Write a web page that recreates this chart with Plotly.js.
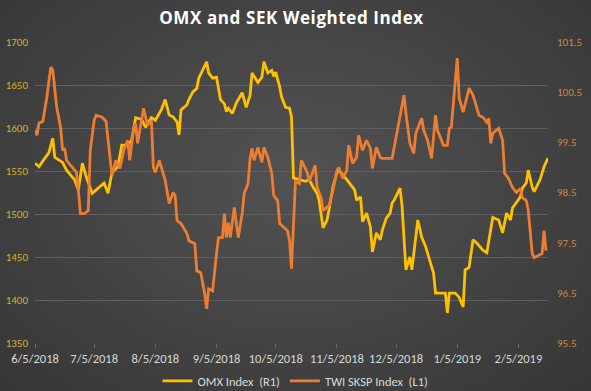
<!DOCTYPE html>
<html>
<head>
<meta charset="utf-8">
<script src="https://cdn.plot.ly/plotly-3.0.1.min.js"></script>
<style>
  html, body { margin: 0; padding: 0; }
  body { width: 591px; height: 391px; overflow: hidden;
         background: radial-gradient(ellipse at 50% 45%, #525252 0%, #464646 45%, #363636 100%); }
  #chart { width: 591px; height: 391px; }
  .gtitle { letter-spacing: 0.6px; }
</style>
</head>
<body>
<div id="chart"></div>
<script>
// ---- Data ----
const chartTitle = "OMX and SEK Weighted Index";

const omxDates = ["2018-06-05","2018-06-07","2018-06-10","2018-06-12","2018-06-14","2018-06-15","2018-06-17","2018-06-19","2018-06-21","2018-06-23","2018-06-25","2018-06-27","2018-06-29","2018-07-01","2018-07-04","2018-07-06","2018-07-10","2018-07-12","2018-07-14","2018-07-17","2018-07-19","2018-07-22","2018-07-24","2018-07-26","2018-07-29","2018-07-31","2018-08-03","2018-08-05","2018-08-08","2018-08-10","2018-08-12","2018-08-14","2018-08-16","2018-08-17","2018-08-18","2018-08-21","2018-08-22","2018-08-24","2018-08-26","2018-08-27","2018-08-29","2018-08-31","2018-09-01","2018-09-03","2018-09-05","2018-09-07","2018-09-09","2018-09-10","2018-09-11","2018-09-13","2018-09-15","2018-09-18","2018-09-19","2018-09-20","2018-09-22","2018-09-23","2018-09-26","2018-09-28","2018-09-29","2018-10-01","2018-10-03","2018-10-04","2018-10-05","2018-10-07","2018-10-08","2018-10-10","2018-10-12","2018-10-13","2018-10-14","2018-10-17","2018-10-20","2018-10-22","2018-10-24","2018-10-26","2018-10-27","2018-10-29","2018-10-31","2018-11-01","2018-11-03","2018-11-05","2018-11-06","2018-11-10","2018-11-11","2018-11-14","2018-11-15","2018-11-17","2018-11-18","2018-11-20","2018-11-22","2018-11-23","2018-11-25","2018-11-27","2018-11-28","2018-11-30","2018-12-02","2018-12-03","2018-12-04","2018-12-07","2018-12-08","2018-12-10","2018-12-12","2018-12-13","2018-12-16","2018-12-18","2018-12-20","2018-12-22","2018-12-24","2018-12-25","2018-12-27","2018-12-30","2018-12-31","2019-01-01","2019-01-04","2019-01-06","2019-01-08","2019-01-09","2019-01-11","2019-01-13","2019-01-15","2019-01-18","2019-01-20","2019-01-21","2019-01-23","2019-01-26","2019-01-28","2019-01-30","2019-02-01","2019-02-02","2019-02-04","2019-02-06","2019-02-07","2019-02-09","2019-02-10","2019-02-12","2019-02-13","2019-02-16","2019-02-18","2019-02-20"];
const omxValues = [1559,1555,1565,1571,1588,1566,1563,1560,1551,1546,1540,1528,1559,1543,1524,1528,1536,1524,1548,1555,1580,1580,1586,1612,1610,1601,1612,1609,1621,1633,1615,1613,1607,1592,1621,1627,1633,1642,1646,1658,1667,1677,1664,1658,1659,1633,1628,1619,1623,1617,1629,1641,1633,1624,1638,1664,1653,1659,1677,1664,1667,1660,1665,1648,1636,1624,1623,1613,1542,1540,1538,1540,1531,1524,1516,1484,1493,1505,1531,1548,1551,1540,1537,1528,1516,1520,1491,1501,1485,1456,1478,1470,1481,1495,1501,1513,1516,1530,1510,1435,1450,1435,1493,1473,1462,1446,1431,1408,1408,1408,1385,1408,1408,1403,1392,1435,1438,1470,1466,1458,1455,1470,1496,1493,1478,1501,1493,1507,1513,1520,1530,1536,1551,1531,1526,1540,1555,1565];

const twiDates = ["2018-06-05","2018-06-06","2018-06-07","2018-06-09","2018-06-11","2018-06-13","2018-06-14","2018-06-16","2018-06-17","2018-06-18","2018-06-19","2018-06-20","2018-06-21","2018-06-24","2018-06-26","2018-06-27","2018-06-28","2018-06-30","2018-07-02","2018-07-03","2018-07-05","2018-07-06","2018-07-09","2018-07-11","2018-07-13","2018-07-14","2018-07-16","2018-07-18","2018-07-20","2018-07-22","2018-07-23","2018-07-25","2018-07-26","2018-07-27","2018-07-29","2018-07-30","2018-08-01","2018-08-03","2018-08-04","2018-08-05","2018-08-07","2018-08-08","2018-08-10","2018-08-12","2018-08-14","2018-08-15","2018-08-16","2018-08-18","2018-08-21","2018-08-22","2018-08-25","2018-08-26","2018-08-28","2018-08-30","2018-08-31","2018-09-01","2018-09-03","2018-09-05","2018-09-06","2018-09-08","2018-09-09","2018-09-10","2018-09-11","2018-09-12","2018-09-14","2018-09-16","2018-09-18","2018-09-19","2018-09-21","2018-09-22","2018-09-23","2018-09-24","2018-09-26","2018-09-28","2018-09-29","2018-10-01","2018-10-03","2018-10-04","2018-10-06","2018-10-07","2018-10-09","2018-10-11","2018-10-12","2018-10-13","2018-10-15","2018-10-17","2018-10-18","2018-10-21","2018-10-22","2018-10-25","2018-10-26","2018-10-28","2018-10-29","2018-11-01","2018-11-03","2018-11-05","2018-11-06","2018-11-08","2018-11-10","2018-11-11","2018-11-13","2018-11-15","2018-11-16","2018-11-18","2018-11-20","2018-11-22","2018-11-23","2018-11-25","2018-11-27","2018-11-28","2018-12-03","2018-12-07","2018-12-09","2018-12-10","2018-12-12","2018-12-14","2018-12-15","2018-12-18","2018-12-19","2018-12-21","2018-12-23","2018-12-25","2018-12-26","2018-12-29","2018-12-31","2019-01-01","2019-01-02","2019-01-05","2019-01-06","2019-01-08","2019-01-10","2019-01-11","2019-01-13","2019-01-15","2019-01-16","2019-01-18","2019-01-20","2019-01-21","2019-01-22","2019-01-23","2019-01-26","2019-01-28","2019-01-29","2019-01-31","2019-02-02","2019-02-04","2019-02-06","2019-02-07","2019-02-09","2019-02-10","2019-02-12","2019-02-13","2019-02-17","2019-02-18","2019-02-19"];
const twiValues = [99.74,99.64,99.88,99.92,100.4,101.0,100.94,100.2,100.0,99.78,99.34,99.38,99.14,99.0,98.9,98.54,98.08,98.08,98.14,99.34,99.94,100.04,100.0,99.92,99.14,98.84,99.14,98.98,99.34,99.54,99.14,99.78,99.88,99.48,99.94,100.18,99.84,99.94,99.0,98.9,99.14,99.0,98.74,98.28,98.5,98.44,97.94,97.88,97.68,97.54,97.48,96.94,96.9,96.48,96.18,96.58,96.54,97.28,97.6,97.6,98.08,97.6,97.9,97.6,98.2,97.6,98.08,98.48,98.68,99.18,99.38,99.14,99.4,99.1,99.4,99.2,98.88,98.44,98.34,97.88,97.8,97.74,97.54,96.98,98.72,98.68,99.14,98.9,98.72,99.04,98.6,98.4,98.14,98.24,98.54,98.94,99.0,98.78,98.94,99.44,99.08,99.2,99.64,99.34,99.54,99.38,98.98,99.4,99.2,99.18,99.18,100.0,100.44,100.08,99.48,99.28,99.68,99.98,99.74,99.54,99.18,100.04,99.74,99.44,99.44,99.78,99.8,101.18,100.38,100.1,100.4,100.58,100.44,100.2,100.04,100.0,99.9,99.98,99.48,99.68,99.78,99.54,98.88,98.78,98.6,98.5,98.58,98.4,98.34,98.14,97.28,97.2,97.28,97.74,97.34];

const xTickDates = ["2018-06-05","2018-07-05","2018-08-05","2018-09-05","2018-10-05","2018-11-05","2018-12-05","2019-01-05","2019-02-05"];
const xTickLabels = ["6/5/2018","7/5/2018","8/5/2018","9/5/2018","10/5/2018","11/5/2018","12/5/2018","1/5/2019","2/5/2019"];
const leftTicks = [1350,1400,1450,1500,1550,1600,1650,1700];
const rightTicks = [95.5,96.5,97.5,98.5,99.5,100.5,101.5];
const omxName = "OMX Index\u00a0\u00a0(R1)";
const twiName = "TWI SKSP Index\u00a0\u00a0(L1)";

// ---- Chart ----
const FONT = "Carlito, 'Liberation Sans Narrow', Lato, 'Open Sans', sans-serif";

const traces = [
  { x: omxDates, y: omxValues, name: omxName, type: "scatter", mode: "lines",
    line: { color: "#FFC000", width: 2.8 }, yaxis: "y" },
  { x: twiDates, y: twiValues, name: twiName, type: "scatter", mode: "lines",
    line: { color: "#ED7D31", width: 2.8 }, yaxis: "y2" }
];

const layout = {
  width: 591, height: 391,
  paper_bgcolor: "rgba(0,0,0,0)",
  plot_bgcolor: "rgba(0,0,0,0)",
  margin: { l: 35, r: 43, t: 42, b: 48 },
  font: { family: FONT, color: "#d9d9d9", size: 12 },
  title: { text: chartTitle, x: 0.5, xanchor: "center", xref: "paper",
           y: 0.955, yref: "container", yanchor: "middle",
           font: { family: "'Open Sans', sans-serif", size: 17, color: "#ffffff", weight: "bold" } },
  showlegend: true,
  legend: { orientation: "h", x: 0.5, xref: "container", xanchor: "center",
            y: 0.025, yref: "container", yanchor: "middle",
            font: { family: FONT, size: 12.5, color: "#d9d9d9" },
            bgcolor: "rgba(0,0,0,0)", itemwidth: 30, tracegroupgap: 0 },
  xaxis: {
    type: "date",
    range: ["2018-06-05", "2019-02-20"],
    tickmode: "array", tickvals: xTickDates, ticktext: xTickLabels,
    ticks: "outside", ticklen: 4, tickcolor: "#6a6a6a",
    showgrid: false, zeroline: false, showline: false,
    tickfont: { family: FONT, size: 12.5, color: "#d9d9d9" }
  },
  yaxis: {
    range: [1350, 1700], tickmode: "array", tickvals: leftTicks,
    ticktext: leftTicks.map(String),
    showgrid: true, gridcolor: "#5f5f5f", gridwidth: 1,
    zeroline: false, showline: false, ticks: "",
    ticklabelstandoff: 6,
    tickfont: { family: FONT, size: 11, color: "#D9AE2A" }
  },
  yaxis2: {
    range: [95.5, 101.5], overlaying: "y", side: "right",
    tickmode: "array", tickvals: rightTicks,
    ticktext: rightTicks.map(v => v.toFixed(1)),
    showgrid: false, zeroline: false, showline: false, ticks: "",
    ticklabelstandoff: 8,
    tickfont: { family: FONT, size: 11, color: "#D9803F" }
  }
};

Plotly.newPlot("chart", traces, layout, { staticPlot: true, displayModeBar: false });
</script>
</body>
</html>
